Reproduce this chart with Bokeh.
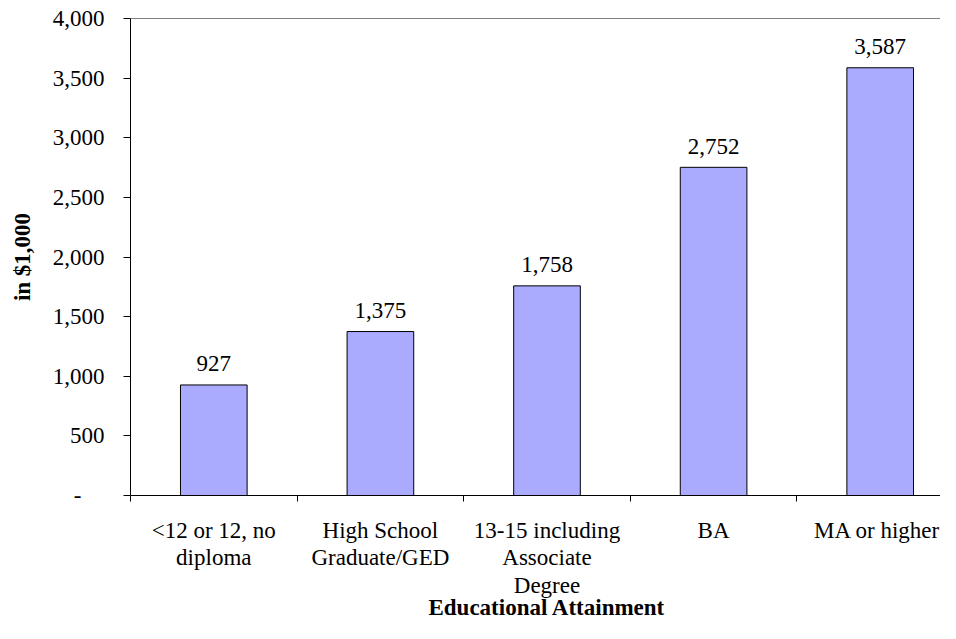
from bokeh.plotting import figure
from bokeh.models import (FixedTicker, LinearAxis, Range1d,
                          NumeralTickFormatter, ColumnDataSource)
from bokeh.core.properties import value
from bokeh.embed import file_html
from bokeh.resources import INLINE

# ---- data ----
categories = ["<12 or 12, no\ndiploma", "High School\nGraduate/GED",
              "13-15 including\nAssociate\nDegree", "BA", "MA or higher"]
values = [927, 1375, 1758, 2752, 3587]
y_ticks = [0, 500, 1000, 1500, 2000, 2500, 3000, 3500, 4000]
y_title = "in $1,000"
x_title = "Educational Attainment"

FONT = "Liberation Serif"
BAR_COLOR = "#AAAAFF"

centers = [i + 0.5 for i in range(len(categories))]
labels = [f"{v:,}" for v in values]
src = ColumnDataSource(dict(x=centers, top=values, lab=labels))

CAT_PX = 166.6
W, H = 940, 623
BL, BT, BB = 130, 18, 128

p = figure(width=W, height=H,
           x_range=Range1d(0, (W - BL) / CAT_PX), y_range=Range1d(0, 4000),
           output_backend="svg", toolbar_location=None,
           min_border_left=BL, min_border_right=0,
           min_border_top=BT, min_border_bottom=BB)
p.title = None
p.outline_line_color = None
p.xgrid.visible = False
p.ygrid.visible = False
p.background_fill_color = "white"
p.border_fill_color = "white"

p.vbar(x="x", top="top", width=0.4, bottom=0, source=src,
       fill_color=BAR_COLOR, line_color="black", line_width=1)
p.text(x="x", y="top", text="lab", source=src, text_align="center",
       text_baseline="alphabetic", y_offset=-21,
       text_font=value(FONT), text_font_size="23px", text_color="black")

# x axis: boundary ticks as minor ticks, labels at category centers
xa = p.xaxis[0]
xa.ticker = FixedTicker(ticks=centers,
                        minor_ticks=list(range(len(categories) + 1)))
xa.major_label_overrides = {c: lab for c, lab in zip(centers, categories)}
xa.major_tick_line_color = None
xa.major_tick_out = 6
xa.major_tick_in = 0
xa.minor_tick_line_color = "black"
xa.minor_tick_out = 6
xa.minor_tick_in = 0
xa.axis_line_color = "black"
xa.major_label_text_font = FONT
xa.major_label_text_font_size = "23px"
xa.major_label_text_color = "black"
xa.major_label_text_line_height = 1.1
xa.major_label_standoff = 16

# x axis title: centred under the five categories (second, line-less axis)
mid = len(categories) / 2
xt = LinearAxis(ticker=FixedTicker(ticks=[mid]),
                major_label_overrides={mid: x_title},
                axis_line_color=None, major_tick_line_color=None,
                minor_tick_line_color=None, major_tick_out=0, major_tick_in=0,
                minor_tick_out=0, minor_tick_in=0,
                major_label_standoff=-6,
                major_label_text_font=FONT, major_label_text_font_size="23px",
                major_label_text_font_style="bold",
                major_label_text_color="black")
p.add_layout(xt, "below")

# y axis
ya = p.yaxis[0]
ya.ticker = FixedTicker(ticks=y_ticks)
ya.formatter = NumeralTickFormatter(format="0,0")
ya.major_label_overrides = {0: "-\u00a0\u00a0\u00a0\u00a0"}
ya.major_tick_out = 7
ya.major_tick_in = 0
ya.minor_tick_line_color = None
ya.major_tick_line_color = "black"
ya.axis_line_color = "black"
ya.major_label_text_font = FONT
ya.major_label_text_font_size = "23px"
ya.major_label_text_color = "black"
ya.major_label_standoff = 19
ya.axis_label = y_title
ya.axis_label_text_font = FONT
ya.axis_label_text_font_size = "23px"
ya.axis_label_text_font_style = "bold"
ya.axis_label_text_color = "black"
ya.axis_label_standoff = 15

# top border line
top = LinearAxis(ticker=FixedTicker(ticks=[]), axis_line_color="#808080",
                 major_tick_line_color=None, minor_tick_line_color=None,
                 major_tick_out=0, major_tick_in=0,
                 major_label_text_font_size="0px", major_label_standoff=0)
p.add_layout(top, "above")

open("out.html", "w").write(file_html(p, INLINE))
